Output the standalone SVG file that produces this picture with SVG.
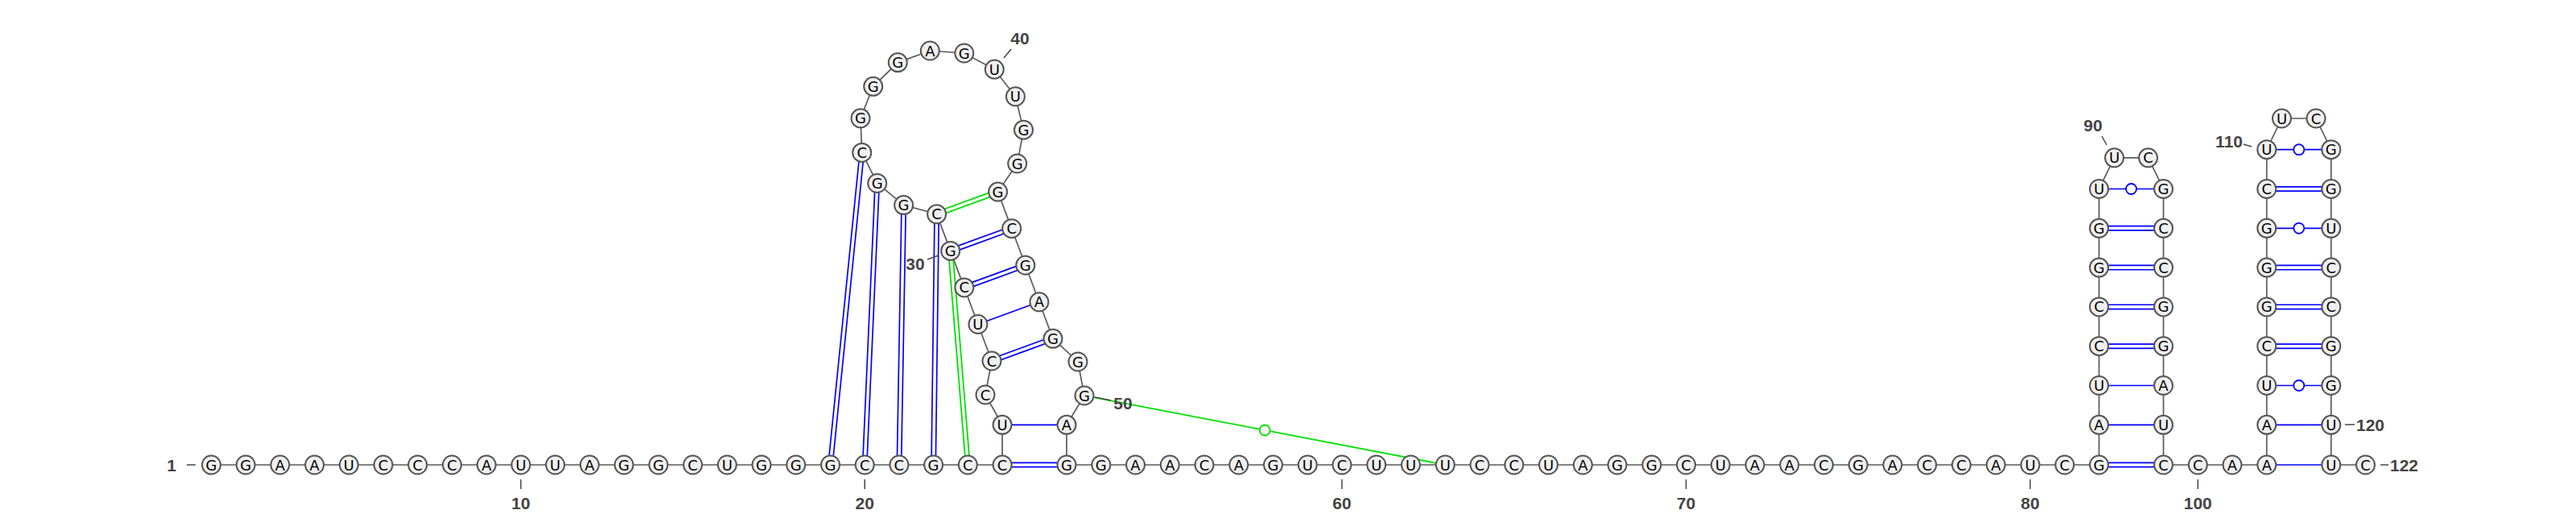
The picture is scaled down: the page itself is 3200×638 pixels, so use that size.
<svg xmlns="http://www.w3.org/2000/svg" width="3200" height="638" viewBox="0 0 3200 638">
<style>
.bb{stroke:#5a5a5a;stroke-width:1.7;fill:none}
.bp{stroke:#0000ff;stroke-width:1.7;fill:none}
.nc{stroke:#00e000;stroke-width:1.8;fill:none}
.wb{stroke:#0000ff;stroke-width:1.8;fill:#fff}
.wg{stroke:#00e000;stroke-width:1.8;fill:#fff}
.nt circle{fill:#f0f0f0;stroke:#555;stroke-width:2}
.nt text{font-family:"DejaVu Sans",sans-serif;font-size:18px;text-anchor:middle;fill:#000}
.lbl{font-family:"Liberation Sans",Arial,sans-serif;font-weight:bold;font-size:21px;fill:#444;text-anchor:middle}
.tk{stroke:#444;stroke-width:1.5}
</style>
<rect width="3200" height="638" fill="#fff"/>
<g id="connectors">
<path id="backbone" class="bb" d="M262.5,577H1245.1L1245.1,527.3L1224,490L1232,448L1214.9,402.5L1197.8,356.9L1180.7,311.4L1163.6,265.8L1122.6,254.6L1089.7,227.5L1070.7,189.4L1069,146.8L1084.7,107.3L1115.3,77.6L1155.3,63L1197.8,66L1235.3,86.1L1261.4,119.8L1271.5,161.2L1263.7,203L1239.6,238.1L1256.7,283.7L1273.8,329.2L1290.9,374.8L1308,420.3L1339,449L1347,491L1325,527.3L1325,577H2607.5V234.5L2626.5,195.8L2668.5,195.8L2687.5,234.5V577H2815.8V185.7L2834.5,147L2877,147L2895.8,185.7V577H2938.5"/>
<path class="bp" d="M1034.1,577.3L1073.3,189.7M1028.9,576.7L1068.1,189.1"/>
<path class="bp" d="M1076.8,577.1L1092.3,227.6M1071.6,576.9L1087.1,227.4"/>
<path class="bp" d="M1119.6,577L1125.3,254.6M1114.3,577L1120,254.6"/>
<path class="bp" d="M1162.3,577L1166.3,265.8M1157,577L1161,265.8"/>
<path class="nc" d="M1204.9,576.8L1183.3,311.2M1199.7,577.2L1178.1,311.6"/>
<path class="nc" d="M1164.5,268.3L1240.5,240.6M1162.7,263.3L1238.7,235.6"/>
<path class="bp" d="M1181.6,313.9L1257.6,286.2M1179.8,308.9L1255.8,281.2"/>
<path class="bp" d="M1198.7,359.4L1274.7,331.7M1196.9,354.4L1272.9,326.7"/>
<path class="bp" d="M1214.9,402.5L1290.9,374.8"/>
<path class="bp" d="M1232.9,450.5L1308.9,422.8M1231.1,445.5L1307.1,417.8"/>
<path class="bp" d="M1245.1,574.35H1325M1245.1,579.65H1325"/>
<path class="bp" d="M1245.1,527.3H1325"/>
<path class="bp" d="M2607.5,574.35H2687.5M2607.5,579.65H2687.5"/>
<path class="bp" d="M2607.5,527.3H2687.5"/>
<path class="bp" d="M2607.5,478.5H2687.5"/>
<path class="bp" d="M2607.5,427.05H2687.5M2607.5,432.35H2687.5"/>
<path class="bp" d="M2607.5,378.25H2687.5M2607.5,383.55H2687.5"/>
<path class="bp" d="M2607.5,329.45H2687.5M2607.5,334.75H2687.5"/>
<path class="bp" d="M2607.5,280.65H2687.5M2607.5,285.95H2687.5"/>
<path class="bp" d="M2607.5,234.5H2687.5"/>
<circle class="wb" cx="2647.5" cy="234.5" r="6.5"/>
<path class="bp" d="M2815.8,577H2895.8"/>
<path class="bp" d="M2815.8,527.3H2895.8"/>
<path class="bp" d="M2815.8,478.5H2895.8"/>
<circle class="wb" cx="2855.8" cy="478.5" r="6.5"/>
<path class="bp" d="M2815.8,427.05H2895.8M2815.8,432.35H2895.8"/>
<path class="bp" d="M2815.8,378.25H2895.8M2815.8,383.55H2895.8"/>
<path class="bp" d="M2815.8,329.45H2895.8M2815.8,334.75H2895.8"/>
<path class="bp" d="M2815.8,283.3H2895.8"/>
<circle class="wb" cx="2855.8" cy="283.3" r="6.5"/>
<path class="bp" d="M2815.8,231.85H2895.8M2815.8,237.15H2895.8"/>
<path class="bp" d="M2815.8,185.7H2895.8"/>
<circle class="wb" cx="2855.8" cy="185.7" r="6.5"/>
<path class="nc" d="M1359.1,493.3L1783,574.6"/>
<circle class="wg" cx="1571.2" cy="534" r="6.5"/>
</g>
<g id="labels">
<text class="lbl" x="213" y="585">1</text><line class="tk" x1="232" y1="577" x2="243" y2="577"/>
<line class="tk" x1="647" y1="595" x2="647" y2="607"/><text class="lbl" x="647" y="632">10</text>
<line class="tk" x1="1074.2" y1="595" x2="1074.2" y2="607"/><text class="lbl" x="1074.2" y="632">20</text>
<line class="tk" x1="1152" y1="322" x2="1166" y2="317"/><text class="lbl" x="1137" y="335">30</text>
<line class="tk" x1="1247" y1="72" x2="1256" y2="61"/><text class="lbl" x="1267" y="55">40</text>
<line class="tk" x1="1360" y1="493" x2="1380" y2="497"/><text class="lbl" x="1395" y="508">50</text>
<line class="tk" x1="1667" y1="595" x2="1667" y2="607"/><text class="lbl" x="1667" y="632">60</text>
<line class="tk" x1="2094.5" y1="595" x2="2094.5" y2="607"/><text class="lbl" x="2094.5" y="632">70</text>
<line class="tk" x1="2522" y1="595" x2="2522" y2="607"/><text class="lbl" x="2522" y="632">80</text>
<line class="tk" x1="2611" y1="169" x2="2617" y2="180"/><text class="lbl" x="2600" y="163">90</text>
<line class="tk" x1="2730.3" y1="595" x2="2730.3" y2="607"/><text class="lbl" x="2730.3" y="632">100</text>
<line class="tk" x1="2787" y1="179" x2="2797" y2="182"/><text class="lbl" x="2786" y="183" style="text-anchor:end">110</text>
<line class="tk" x1="2913" y1="527" x2="2925" y2="527"/><text class="lbl" x="2927" y="535" style="text-anchor:start">120</text>
<line class="tk" x1="2957" y1="577" x2="2967" y2="577"/><text class="lbl" x="2969" y="585" style="text-anchor:start">122</text>
</g>
<g id="nodes">
<g id="n1" class="nt"><circle cx="262.5" cy="577" r="11.5"/><text x="262.5" y="583.5">G</text></g>
<g id="n2" class="nt"><circle cx="305.2" cy="577" r="11.5"/><text x="305.2" y="583.5">G</text></g>
<g id="n3" class="nt"><circle cx="347.9" cy="577" r="11.5"/><text x="347.9" y="583.5">A</text></g>
<g id="n4" class="nt"><circle cx="390.7" cy="577" r="11.5"/><text x="390.7" y="583.5">A</text></g>
<g id="n5" class="nt"><circle cx="433.4" cy="577" r="11.5"/><text x="433.4" y="583.5">U</text></g>
<g id="n6" class="nt"><circle cx="476.1" cy="577" r="11.5"/><text x="476.1" y="583.5">C</text></g>
<g id="n7" class="nt"><circle cx="518.8" cy="577" r="11.5"/><text x="518.8" y="583.5">C</text></g>
<g id="n8" class="nt"><circle cx="561.5" cy="577" r="11.5"/><text x="561.5" y="583.5">C</text></g>
<g id="n9" class="nt"><circle cx="604.3" cy="577" r="11.5"/><text x="604.3" y="583.5">A</text></g>
<g id="n10" class="nt"><circle cx="647" cy="577" r="11.5"/><text x="647" y="583.5">U</text></g>
<g id="n11" class="nt"><circle cx="689.7" cy="577" r="11.5"/><text x="689.7" y="583.5">U</text></g>
<g id="n12" class="nt"><circle cx="732.4" cy="577" r="11.5"/><text x="732.4" y="583.5">A</text></g>
<g id="n13" class="nt"><circle cx="775.1" cy="577" r="11.5"/><text x="775.1" y="583.5">G</text></g>
<g id="n14" class="nt"><circle cx="817.9" cy="577" r="11.5"/><text x="817.9" y="583.5">G</text></g>
<g id="n15" class="nt"><circle cx="860.6" cy="577" r="11.5"/><text x="860.6" y="583.5">C</text></g>
<g id="n16" class="nt"><circle cx="903.3" cy="577" r="11.5"/><text x="903.3" y="583.5">U</text></g>
<g id="n17" class="nt"><circle cx="946" cy="577" r="11.5"/><text x="946" y="583.5">G</text></g>
<g id="n18" class="nt"><circle cx="988.7" cy="577" r="11.5"/><text x="988.7" y="583.5">G</text></g>
<g id="n19" class="nt"><circle cx="1031.5" cy="577" r="11.5"/><text x="1031.5" y="583.5">G</text></g>
<g id="n20" class="nt"><circle cx="1074.2" cy="577" r="11.5"/><text x="1074.2" y="583.5">C</text></g>
<g id="n21" class="nt"><circle cx="1116.9" cy="577" r="11.5"/><text x="1116.9" y="583.5">C</text></g>
<g id="n22" class="nt"><circle cx="1159.6" cy="577" r="11.5"/><text x="1159.6" y="583.5">G</text></g>
<g id="n23" class="nt"><circle cx="1202.3" cy="577" r="11.5"/><text x="1202.3" y="583.5">C</text></g>
<g id="n24" class="nt"><circle cx="1245.1" cy="577" r="11.5"/><text x="1245.1" y="583.5">C</text></g>
<g id="n25" class="nt"><circle cx="1245.1" cy="527.3" r="11.5"/><text x="1245.1" y="533.8">U</text></g>
<g id="n26" class="nt"><circle cx="1224" cy="490" r="11.5"/><text x="1224" y="496.5">C</text></g>
<g id="n27" class="nt"><circle cx="1232" cy="448" r="11.5"/><text x="1232" y="454.5">C</text></g>
<g id="n28" class="nt"><circle cx="1214.9" cy="402.5" r="11.5"/><text x="1214.9" y="409">U</text></g>
<g id="n29" class="nt"><circle cx="1197.8" cy="356.9" r="11.5"/><text x="1197.8" y="363.4">C</text></g>
<g id="n30" class="nt"><circle cx="1180.7" cy="311.4" r="11.5"/><text x="1180.7" y="317.9">G</text></g>
<g id="n31" class="nt"><circle cx="1163.6" cy="265.8" r="11.5"/><text x="1163.6" y="272.3">C</text></g>
<g id="n32" class="nt"><circle cx="1122.6" cy="254.6" r="11.5"/><text x="1122.6" y="261.1">G</text></g>
<g id="n33" class="nt"><circle cx="1089.7" cy="227.5" r="11.5"/><text x="1089.7" y="234">G</text></g>
<g id="n34" class="nt"><circle cx="1070.7" cy="189.4" r="11.5"/><text x="1070.7" y="195.9">C</text></g>
<g id="n35" class="nt"><circle cx="1069" cy="146.8" r="11.5"/><text x="1069" y="153.3">G</text></g>
<g id="n36" class="nt"><circle cx="1084.7" cy="107.3" r="11.5"/><text x="1084.7" y="113.8">G</text></g>
<g id="n37" class="nt"><circle cx="1115.3" cy="77.6" r="11.5"/><text x="1115.3" y="84.1">G</text></g>
<g id="n38" class="nt"><circle cx="1155.3" cy="63" r="11.5"/><text x="1155.3" y="69.5">A</text></g>
<g id="n39" class="nt"><circle cx="1197.8" cy="66" r="11.5"/><text x="1197.8" y="72.5">G</text></g>
<g id="n40" class="nt"><circle cx="1235.3" cy="86.1" r="11.5"/><text x="1235.3" y="92.6">U</text></g>
<g id="n41" class="nt"><circle cx="1261.4" cy="119.8" r="11.5"/><text x="1261.4" y="126.3">U</text></g>
<g id="n42" class="nt"><circle cx="1271.5" cy="161.2" r="11.5"/><text x="1271.5" y="167.7">G</text></g>
<g id="n43" class="nt"><circle cx="1263.7" cy="203" r="11.5"/><text x="1263.7" y="209.5">G</text></g>
<g id="n44" class="nt"><circle cx="1239.6" cy="238.1" r="11.5"/><text x="1239.6" y="244.6">G</text></g>
<g id="n45" class="nt"><circle cx="1256.7" cy="283.7" r="11.5"/><text x="1256.7" y="290.2">C</text></g>
<g id="n46" class="nt"><circle cx="1273.8" cy="329.2" r="11.5"/><text x="1273.8" y="335.7">G</text></g>
<g id="n47" class="nt"><circle cx="1290.9" cy="374.8" r="11.5"/><text x="1290.9" y="381.3">A</text></g>
<g id="n48" class="nt"><circle cx="1308" cy="420.3" r="11.5"/><text x="1308" y="426.8">G</text></g>
<g id="n49" class="nt"><circle cx="1339" cy="449" r="11.5"/><text x="1339" y="455.5">G</text></g>
<g id="n50" class="nt"><circle cx="1347" cy="491" r="11.5"/><text x="1347" y="497.5">G</text></g>
<g id="n51" class="nt"><circle cx="1325" cy="527.3" r="11.5"/><text x="1325" y="533.8">A</text></g>
<g id="n52" class="nt"><circle cx="1325" cy="577" r="11.5"/><text x="1325" y="583.5">G</text></g>
<g id="n53" class="nt"><circle cx="1367.8" cy="577" r="11.5"/><text x="1367.8" y="583.5">G</text></g>
<g id="n54" class="nt"><circle cx="1410.5" cy="577" r="11.5"/><text x="1410.5" y="583.5">A</text></g>
<g id="n55" class="nt"><circle cx="1453.3" cy="577" r="11.5"/><text x="1453.3" y="583.5">A</text></g>
<g id="n56" class="nt"><circle cx="1496" cy="577" r="11.5"/><text x="1496" y="583.5">C</text></g>
<g id="n57" class="nt"><circle cx="1538.8" cy="577" r="11.5"/><text x="1538.8" y="583.5">A</text></g>
<g id="n58" class="nt"><circle cx="1581.5" cy="577" r="11.5"/><text x="1581.5" y="583.5">G</text></g>
<g id="n59" class="nt"><circle cx="1624.3" cy="577" r="11.5"/><text x="1624.3" y="583.5">U</text></g>
<g id="n60" class="nt"><circle cx="1667" cy="577" r="11.5"/><text x="1667" y="583.5">C</text></g>
<g id="n61" class="nt"><circle cx="1709.8" cy="577" r="11.5"/><text x="1709.8" y="583.5">U</text></g>
<g id="n62" class="nt"><circle cx="1752.5" cy="577" r="11.5"/><text x="1752.5" y="583.5">U</text></g>
<g id="n63" class="nt"><circle cx="1795.3" cy="577" r="11.5"/><text x="1795.3" y="583.5">U</text></g>
<g id="n64" class="nt"><circle cx="1838" cy="577" r="11.5"/><text x="1838" y="583.5">C</text></g>
<g id="n65" class="nt"><circle cx="1880.8" cy="577" r="11.5"/><text x="1880.8" y="583.5">C</text></g>
<g id="n66" class="nt"><circle cx="1923.5" cy="577" r="11.5"/><text x="1923.5" y="583.5">U</text></g>
<g id="n67" class="nt"><circle cx="1966.3" cy="577" r="11.5"/><text x="1966.3" y="583.5">A</text></g>
<g id="n68" class="nt"><circle cx="2009" cy="577" r="11.5"/><text x="2009" y="583.5">G</text></g>
<g id="n69" class="nt"><circle cx="2051.8" cy="577" r="11.5"/><text x="2051.8" y="583.5">G</text></g>
<g id="n70" class="nt"><circle cx="2094.5" cy="577" r="11.5"/><text x="2094.5" y="583.5">C</text></g>
<g id="n71" class="nt"><circle cx="2137.3" cy="577" r="11.5"/><text x="2137.3" y="583.5">U</text></g>
<g id="n72" class="nt"><circle cx="2180" cy="577" r="11.5"/><text x="2180" y="583.5">A</text></g>
<g id="n73" class="nt"><circle cx="2222.8" cy="577" r="11.5"/><text x="2222.8" y="583.5">A</text></g>
<g id="n74" class="nt"><circle cx="2265.5" cy="577" r="11.5"/><text x="2265.5" y="583.5">C</text></g>
<g id="n75" class="nt"><circle cx="2308.3" cy="577" r="11.5"/><text x="2308.3" y="583.5">G</text></g>
<g id="n76" class="nt"><circle cx="2351" cy="577" r="11.5"/><text x="2351" y="583.5">A</text></g>
<g id="n77" class="nt"><circle cx="2393.8" cy="577" r="11.5"/><text x="2393.8" y="583.5">C</text></g>
<g id="n78" class="nt"><circle cx="2436.5" cy="577" r="11.5"/><text x="2436.5" y="583.5">C</text></g>
<g id="n79" class="nt"><circle cx="2479.3" cy="577" r="11.5"/><text x="2479.3" y="583.5">A</text></g>
<g id="n80" class="nt"><circle cx="2522" cy="577" r="11.5"/><text x="2522" y="583.5">U</text></g>
<g id="n81" class="nt"><circle cx="2564.8" cy="577" r="11.5"/><text x="2564.8" y="583.5">C</text></g>
<g id="n82" class="nt"><circle cx="2607.5" cy="577" r="11.5"/><text x="2607.5" y="583.5">G</text></g>
<g id="n83" class="nt"><circle cx="2607.5" cy="527.3" r="11.5"/><text x="2607.5" y="533.8">A</text></g>
<g id="n84" class="nt"><circle cx="2607.5" cy="478.5" r="11.5"/><text x="2607.5" y="485">U</text></g>
<g id="n85" class="nt"><circle cx="2607.5" cy="429.7" r="11.5"/><text x="2607.5" y="436.2">C</text></g>
<g id="n86" class="nt"><circle cx="2607.5" cy="380.9" r="11.5"/><text x="2607.5" y="387.4">C</text></g>
<g id="n87" class="nt"><circle cx="2607.5" cy="332.1" r="11.5"/><text x="2607.5" y="338.6">G</text></g>
<g id="n88" class="nt"><circle cx="2607.5" cy="283.3" r="11.5"/><text x="2607.5" y="289.8">G</text></g>
<g id="n89" class="nt"><circle cx="2607.5" cy="234.5" r="11.5"/><text x="2607.5" y="241">U</text></g>
<g id="n90" class="nt"><circle cx="2626.5" cy="195.8" r="11.5"/><text x="2626.5" y="202.3">U</text></g>
<g id="n91" class="nt"><circle cx="2668.5" cy="195.8" r="11.5"/><text x="2668.5" y="202.3">C</text></g>
<g id="n92" class="nt"><circle cx="2687.5" cy="234.5" r="11.5"/><text x="2687.5" y="241">G</text></g>
<g id="n93" class="nt"><circle cx="2687.5" cy="283.3" r="11.5"/><text x="2687.5" y="289.8">C</text></g>
<g id="n94" class="nt"><circle cx="2687.5" cy="332.1" r="11.5"/><text x="2687.5" y="338.6">C</text></g>
<g id="n95" class="nt"><circle cx="2687.5" cy="380.9" r="11.5"/><text x="2687.5" y="387.4">G</text></g>
<g id="n96" class="nt"><circle cx="2687.5" cy="429.7" r="11.5"/><text x="2687.5" y="436.2">G</text></g>
<g id="n97" class="nt"><circle cx="2687.5" cy="478.5" r="11.5"/><text x="2687.5" y="485">A</text></g>
<g id="n98" class="nt"><circle cx="2687.5" cy="527.3" r="11.5"/><text x="2687.5" y="533.8">U</text></g>
<g id="n99" class="nt"><circle cx="2687.5" cy="577" r="11.5"/><text x="2687.5" y="583.5">C</text></g>
<g id="n100" class="nt"><circle cx="2730.3" cy="577" r="11.5"/><text x="2730.3" y="583.5">C</text></g>
<g id="n101" class="nt"><circle cx="2773" cy="577" r="11.5"/><text x="2773" y="583.5">A</text></g>
<g id="n102" class="nt"><circle cx="2815.8" cy="577" r="11.5"/><text x="2815.8" y="583.5">A</text></g>
<g id="n103" class="nt"><circle cx="2815.8" cy="527.3" r="11.5"/><text x="2815.8" y="533.8">A</text></g>
<g id="n104" class="nt"><circle cx="2815.8" cy="478.5" r="11.5"/><text x="2815.8" y="485">U</text></g>
<g id="n105" class="nt"><circle cx="2815.8" cy="429.7" r="11.5"/><text x="2815.8" y="436.2">C</text></g>
<g id="n106" class="nt"><circle cx="2815.8" cy="380.9" r="11.5"/><text x="2815.8" y="387.4">G</text></g>
<g id="n107" class="nt"><circle cx="2815.8" cy="332.1" r="11.5"/><text x="2815.8" y="338.6">G</text></g>
<g id="n108" class="nt"><circle cx="2815.8" cy="283.3" r="11.5"/><text x="2815.8" y="289.8">G</text></g>
<g id="n109" class="nt"><circle cx="2815.8" cy="234.5" r="11.5"/><text x="2815.8" y="241">C</text></g>
<g id="n110" class="nt"><circle cx="2815.8" cy="185.7" r="11.5"/><text x="2815.8" y="192.2">U</text></g>
<g id="n111" class="nt"><circle cx="2834.5" cy="147" r="11.5"/><text x="2834.5" y="153.5">U</text></g>
<g id="n112" class="nt"><circle cx="2877" cy="147" r="11.5"/><text x="2877" y="153.5">C</text></g>
<g id="n113" class="nt"><circle cx="2895.8" cy="185.7" r="11.5"/><text x="2895.8" y="192.2">G</text></g>
<g id="n114" class="nt"><circle cx="2895.8" cy="234.5" r="11.5"/><text x="2895.8" y="241">G</text></g>
<g id="n115" class="nt"><circle cx="2895.8" cy="283.3" r="11.5"/><text x="2895.8" y="289.8">U</text></g>
<g id="n116" class="nt"><circle cx="2895.8" cy="332.1" r="11.5"/><text x="2895.8" y="338.6">C</text></g>
<g id="n117" class="nt"><circle cx="2895.8" cy="380.9" r="11.5"/><text x="2895.8" y="387.4">C</text></g>
<g id="n118" class="nt"><circle cx="2895.8" cy="429.7" r="11.5"/><text x="2895.8" y="436.2">G</text></g>
<g id="n119" class="nt"><circle cx="2895.8" cy="478.5" r="11.5"/><text x="2895.8" y="485">G</text></g>
<g id="n120" class="nt"><circle cx="2895.8" cy="527.3" r="11.5"/><text x="2895.8" y="533.8">U</text></g>
<g id="n121" class="nt"><circle cx="2895.8" cy="577" r="11.5"/><text x="2895.8" y="583.5">U</text></g>
<g id="n122" class="nt"><circle cx="2938.5" cy="577" r="11.5"/><text x="2938.5" y="583.5">C</text></g>
</g>
</svg>
